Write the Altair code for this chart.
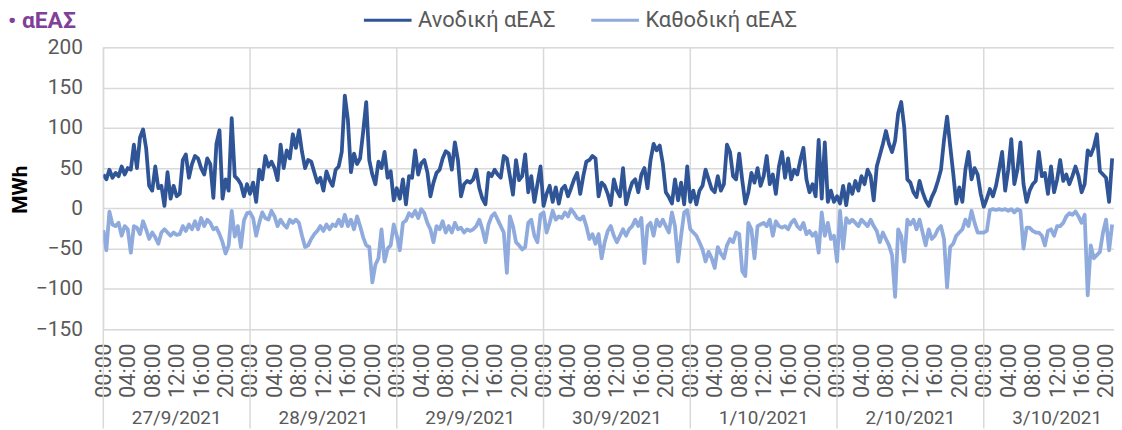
import altair as alt
import pandas as pd

# ---- data (half-hourly values) ----
dates = ["27/9/2021", "28/9/2021", "29/9/2021", "30/9/2021",
         "1/10/2021", "2/10/2021", "3/10/2021"]
series_names = ["Ανοδική αΕΑΣ", "Καθοδική αΕΑΣ"]
chart_title = ["• αΕΑΣ"]

up_d1 = [42, 36, 48, 38, 44, 40, 52, 42, 50, 48, 79, 50, 88, 98, 75, 28, 22, 52, 25, 28,
         3, 45, 12, 28, 15, 18, 60, 67, 38, 55, 65, 62, 50, 42, 62, 55, 13, 80, 97, 12,
         36, 22, 112, 40, 36, 30, 15, 30]
up_d2 = [18, 32, 8, 48, 36, 65, 52, 58, 50, 35, 79, 50, 72, 62, 92, 75, 97, 70, 50, 60,
         58, 45, 32, 38, 22, 46, 35, 28, 48, 52, 70, 140, 110, 45, 68, 55, 62, 95, 132, 60,
         42, 30, 58, 50, 70, 38, 46, 10]
up_d3 = [25, 12, 36, 5, 40, 38, 72, 42, 56, 60, 45, 15, 32, 44, 48, 62, 71, 68, 48, 82,
         60, 15, 30, 34, 32, 36, 48, 25, 12, 5, 44, 40, 48, 42, 38, 65, 62, 40, 17, 60,
         35, 40, 67, 20, 40, 8, 30, 52]
up_d4 = [3, 18, 28, 8, 26, 6, 24, 28, 15, 25, 36, 44, 18, 40, 58, 60, 65, 62, 15, 32,
         28, 18, 4, 36, 22, 15, 50, 5, 20, 32, 36, 20, 42, 50, 25, 60, 80, 72, 78, 56,
         20, 14, 6, 36, 10, 32, 5, 52]
up_d5 = [8, 22, 5, 22, 28, 48, 36, 24, 20, 40, 22, 30, 79, 70, 40, 36, 68, 35, 6, 20,
         44, 32, 50, 28, 40, 65, 30, 42, 18, 52, 70, 38, 62, 36, 48, 42, 60, 75, 36, 20,
         30, 15, 85, 12, 82, 8, 22, 8]
up_d6 = [15, 6, 28, 4, 30, 18, 34, 22, 40, 30, 48, 40, 10, 52, 66, 80, 96, 80, 70, 84,
         118, 132, 100, 36, 32, 20, 14, 34, 20, 10, 3, 14, 22, 34, 48, 85, 114, 78, 44, 6,
         26, 8, 48, 70, 36, 50, 42, 18]
up_d7 = [2, 12, 24, 15, 28, 48, 70, 22, 48, 86, 30, 48, 82, 30, 8, 22, 30, 34, 70, 40,
         44, 18, 52, 20, 36, 60, 34, 42, 30, 40, 52, 40, 20, 30, 72, 66, 76, 92, 46, 42,
         38, 8, 62]

down_d1 = [-27, -52, -4, -20, -22, -18, -34, -22, -26, -55, -22, -24, -32, -16, -26, -38, -30, -36, -44, -30,
           -26, -30, -34, -30, -33, -32, -22, -28, -20, -26, -16, -26, -12, -22, -14, -18, -26, -24, -32, -42,
           -56, -46, -3, -35, -22, -48, -15, -6]
down_d2 = [-5, -12, -34, -18, -5, -12, -14, -3, -10, -22, -14, -20, -24, -14, -18, -14, -18, -34, -48, -46,
           -38, -32, -28, -22, -28, -20, -26, -20, -22, -14, -22, -8, -22, -14, -26, -10, -22, -36, -46, -48,
           -92, -70, -62, -26, -66, -50, -46, -20]
down_d3 = [-34, -52, -18, -15, -6, -10, -3, -12, -1, -6, -18, -26, -42, -22, -26, -16, -30, -22, -30, -18,
           -26, -24, -30, -26, -28, -26, -22, -14, -26, -42, -20, -10, -6, -14, -22, -30, -80, -10, -22, -42,
           -46, -51, -48, -18, -14, -34, -42, -8]
down_d4 = [-5, -30, -18, -3, -14, -10, -12, -5, -10, -1, -6, -12, -14, -10, -22, -38, -32, -44, -32, -62,
           -42, -28, -22, -34, -42, -34, -26, -34, -26, -22, -14, -22, -12, -68, -22, -18, -34, -14, -22, -14,
           -22, -30, -5, -22, -66, -34, -5, -2]
down_d5 = [-26, -30, -34, -42, -51, -66, -54, -62, -74, -48, -56, -62, -46, -38, -42, -30, -32, -78, -84, -18,
           -26, -62, -22, -20, -18, -22, -14, -34, -16, -22, -24, -22, -26, -18, -14, -22, -26, -18, -32, -28,
           -34, -30, -55, -5, -34, -18, -38, -34]
down_d6 = [-66, -3, -50, -12, -18, -14, -18, -22, -14, -18, -22, -14, -22, -28, -42, -30, -38, -46, -58, -110,
           -26, -34, -66, -14, -20, -14, -26, -14, -30, -46, -26, -38, -34, -26, -22, -38, -98, -48, -44, -34,
           -30, -26, -14, -22, -3, -18, -30, -30]
down_d7 = [-30, -28, -2, -1, -2, -1, -2, -1, -3, -1, -5, -1, -3, -50, -24, -24, -28, -30, -30, -34,
           -46, -28, -26, -34, -22, -22, -18, -10, -6, -8, -4, -10, -18, -8, -108, -46, -62, -58, -54, -30,
           -14, -52, -20]

y_ticks = [-150, -100, -50, 0, 50, 100, 150, 200]
x_tick_hours = list(range(0, 165, 4))

ups = [up_d1, up_d2, up_d3, up_d4, up_d5, up_d6, up_d7]
downs = [down_d1, down_d2, down_d3, down_d4, down_d5, down_d6, down_d7]

rows = []
for d, (u, dn) in enumerate(zip(ups, downs)):
    for i, v in enumerate(u):
        rows.append({"h": d * 24 + i * 0.5, "series": series_names[0], "v": v})
    for i, v in enumerate(dn):
        rows.append({"h": d * 24 + i * 0.5, "series": series_names[1], "v": v})
df = pd.DataFrame(rows)

days_df = pd.DataFrame({"start": [d * 24 for d in range(7)],
                        "mid": [d * 24 + 12 for d in range(7)],
                        "label": dates})
title_df = pd.DataFrame({"t": chart_title})

W, H = 1018, 284
X_END = 165.3
GRID = "#D9D9D9"
TXT = "#595959"
FONT = "Roboto"

xscale = alt.Scale(domain=[0, X_END], nice=False, zero=False)
x_axis = alt.Axis(values=x_tick_hours, title=None, grid=False, domain=False, ticks=False,
                  labelAngle=-90, labelPadding=14, labelFontSize=22, labelColor=TXT,
                  labelFont=FONT, labelOverlap=False, labelFlush=False,
                  labelExpr="(datum.value % 24 < 10 ? '0' : '') + (datum.value % 24) + ':00'")

rules = alt.Chart(days_df).mark_rule(color=GRID, strokeWidth=1.5).encode(
    x=alt.X("start:Q", scale=xscale, axis=x_axis),
    y=alt.value(0),
    y2=alt.value(H + 100),
)

lines = alt.Chart(df).mark_line(strokeWidth=3.8, strokeJoin="round", clip=True).encode(
    x=alt.X("h:Q", scale=xscale, axis=x_axis),
    y=alt.Y("v:Q", scale=alt.Scale(domain=[-150, 200], nice=False, zero=False),
            axis=alt.Axis(values=y_ticks, title="MWh", grid=True, gridColor=GRID, gridWidth=1.5,
                          domain=False, ticks=False, labelPadding=21, labelFontSize=21,
                          labelColor=TXT, labelFont=FONT, titleFont=FONT, titleFontSize=21,
                          titleFontWeight="bold", titleColor="black",
                          titleX=-77, titleY=143, titleAngle=-90, titleAlign="center",
                          titleBaseline="alphabetic")),
    color=alt.Color("series:N",
                    scale=alt.Scale(domain=series_names, range=["#2F5597", "#8FAADC"]),
                    legend=alt.Legend(title=None, orient="none", legendX=261, legendY=-53,
                                      direction="horizontal", symbolType="stroke",
                                      symbolSize=2304, symbolStrokeWidth=3,
                                      labelFontSize=22, labelColor=TXT, labelFont=FONT,
                                      labelOffset=5, columnPadding=29)),
    detail="series:N",
    order="h:Q",
)

date_text = alt.Chart(days_df).mark_text(fontSize=19, color=TXT, font=FONT, baseline="middle").encode(
    x=alt.X("mid:Q", scale=xscale, axis=x_axis),
    y=alt.value(H + 89),
    text="label:N",
)

title_text = alt.Chart(title_df).mark_text(fontSize=23, fontWeight="bold", color="#803F98",
                                           font=FONT, align="left", baseline="alphabetic").encode(
    x=alt.value(-96),
    y=alt.value(-19),
    text="t:N",
)

chart = alt.layer(rules, lines, date_text, title_text).properties(
    width=W, height=H,
    autosize=alt.AutoSizeParams(type="none"),
    padding={"left": 96, "top": 38, "right": 0, "bottom": 100},
).configure_view(stroke=None).configure(background="white")

chart.save("out.html", embed_options={"renderer": "svg", "actions": False})
